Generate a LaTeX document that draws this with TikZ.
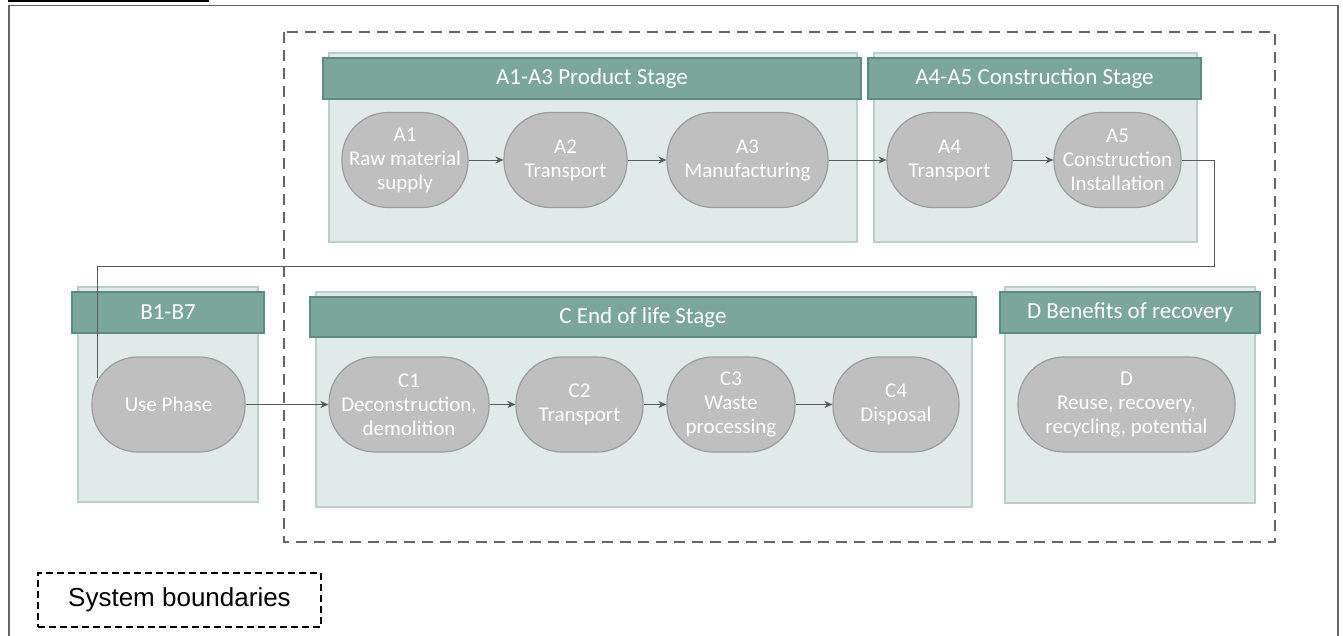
\documentclass[tikz,border=0pt]{standalone}
\usepackage{fontspec}
\usetikzlibrary{arrows.meta}
\setmainfont{Carlito}
\newfontfamily\arialfont{Liberation Sans}
\begin{document}
\begin{tikzpicture}[x=1pt,y=-1pt,
  panel/.style={draw=panelborder,line width=1.2pt,fill=panelfill},
  header/.style={draw=headborder,line width=1.5pt,fill=headfill,text=white,
    font=\fontsize{23}{27}\selectfont,inner sep=0pt},
  proc/.style={draw=procborder,line width=1.2pt,fill=procfill,text=white,
    rounded corners=46pt,align=center,inner sep=0pt,minimum height=95pt,
    font=\fontsize{21}{24}\selectfont},
  flow/.style={draw=flowcol,line width=0.9pt,-{Stealth[length=8pt,width=7pt]}},
  link/.style={draw=flowcol,line width=0.9pt}]
\definecolor{panelborder}{HTML}{B9CFC9}
\definecolor{panelfill}{HTML}{E0EAE8}
\definecolor{headborder}{HTML}{5F8C80}
\definecolor{headfill}{HTML}{7BA69B}
\definecolor{procborder}{HTML}{9C9C9C}
\definecolor{procfill}{HTML}{BFBFBF}
\definecolor{flowcol}{HTML}{595959}
\definecolor{framecol}{HTML}{666666}
\useasboundingbox (0,0) rectangle (1343,635);
\fill[white] (0,0) rectangle (1343,635);
% clipped title underline
\draw[black,line width=1.5pt] (8,1) -- (209,1);
% outer frame
\draw[framecol,line width=1.5pt] (9,640) -- (9,5.5) -- (1338,5.5) -- (1338,640);
% system boundary
\draw[framecol,line width=1.3pt,dash pattern=on 11pt off 7pt] (284,32) rectangle (1275,542);
% panels
\draw[panel] (329,53) rectangle (857,242);
\draw[panel] (874,53) rectangle (1197,242);
\draw[panel] (78,287) rectangle (258,502);
\draw[panel] (316,292) rectangle (972,507);
\draw[panel] (1005,287) rectangle (1255,503);
% headers
\node[header,minimum width=538pt,minimum height=41pt] (hA) at (592,78.5) {A1-A3 Product Stage};
\node[header,minimum width=333pt,minimum height=41pt] (hB) at (1034.5,78.5) {A4-A5 Construction Stage};
\node[header,minimum width=192pt,minimum height=41pt] (hU) at (168,312.5) {B1-B7};
\node[header,minimum width=666pt,minimum height=40pt] (hC) at (643,317) {C End of life Stage};
\node[header,minimum width=260pt,minimum height=41pt] (hD) at (1130,312.5) {D Benefits of recovery};
% processes
\node[proc,minimum width=126pt] (A1) at (405,160) {A1\\Raw material\\supply};
\node[proc,minimum width=123pt] (A2) at (565.5,160) {A2\\Transport};
\node[proc,minimum width=161pt] (A3) at (747.5,160) {A3\\Manufacturing};
\node[proc,minimum width=125pt] (A4) at (949.5,160) {A4\\Transport};
\node[proc,minimum width=127pt] (A5) at (1117.5,160) {A5\\Construction\\Installation};
\node[proc,minimum width=153pt] (U) at (168.5,404.5) {Use Phase};
\node[proc,minimum width=160pt] (C1) at (409,404.5) {C1\\Deconstruction,\\demolition};
\node[proc,minimum width=127pt] (C2) at (579.5,404.5) {C2\\Transport};
\node[proc,minimum width=128pt] (C3) at (731,404.5) {C3\\Waste\\processing};
\node[proc,minimum width=126pt] (C4) at (896,404.5) {C4\\Disposal};
\node[proc,minimum width=217pt] (D) at (1126.5,404.5) {D\\Reuse, recovery,\\recycling, potential};
% flows
\draw[flow] (A1) -- (A2);
\draw[flow] (A2) -- (A3);
\draw[flow] (A3) -- (A4);
\draw[flow] (A4) -- (A5);
\draw[flow] (U) -- (C1);
\draw[flow] (C1) -- (C2);
\draw[flow] (C2) -- (C3);
\draw[flow] (C3) -- (C4);
\coordinate (r1) at (1214,266);
\coordinate (l1) at (97,266);
\coordinate (uend) at (97,378);
\draw[link] (A5.east) -| (r1) -- (l1) -- (uend);
% legend
\node[draw=black,line width=1.5pt,dash pattern=on 7pt off 4pt,minimum width=283pt,minimum height=54pt,
  inner sep=0pt,font=\arialfont\fontsize{26}{30}\selectfont] (leg) at (179.5,600) {System boundaries};
\end{tikzpicture}
\end{document}
